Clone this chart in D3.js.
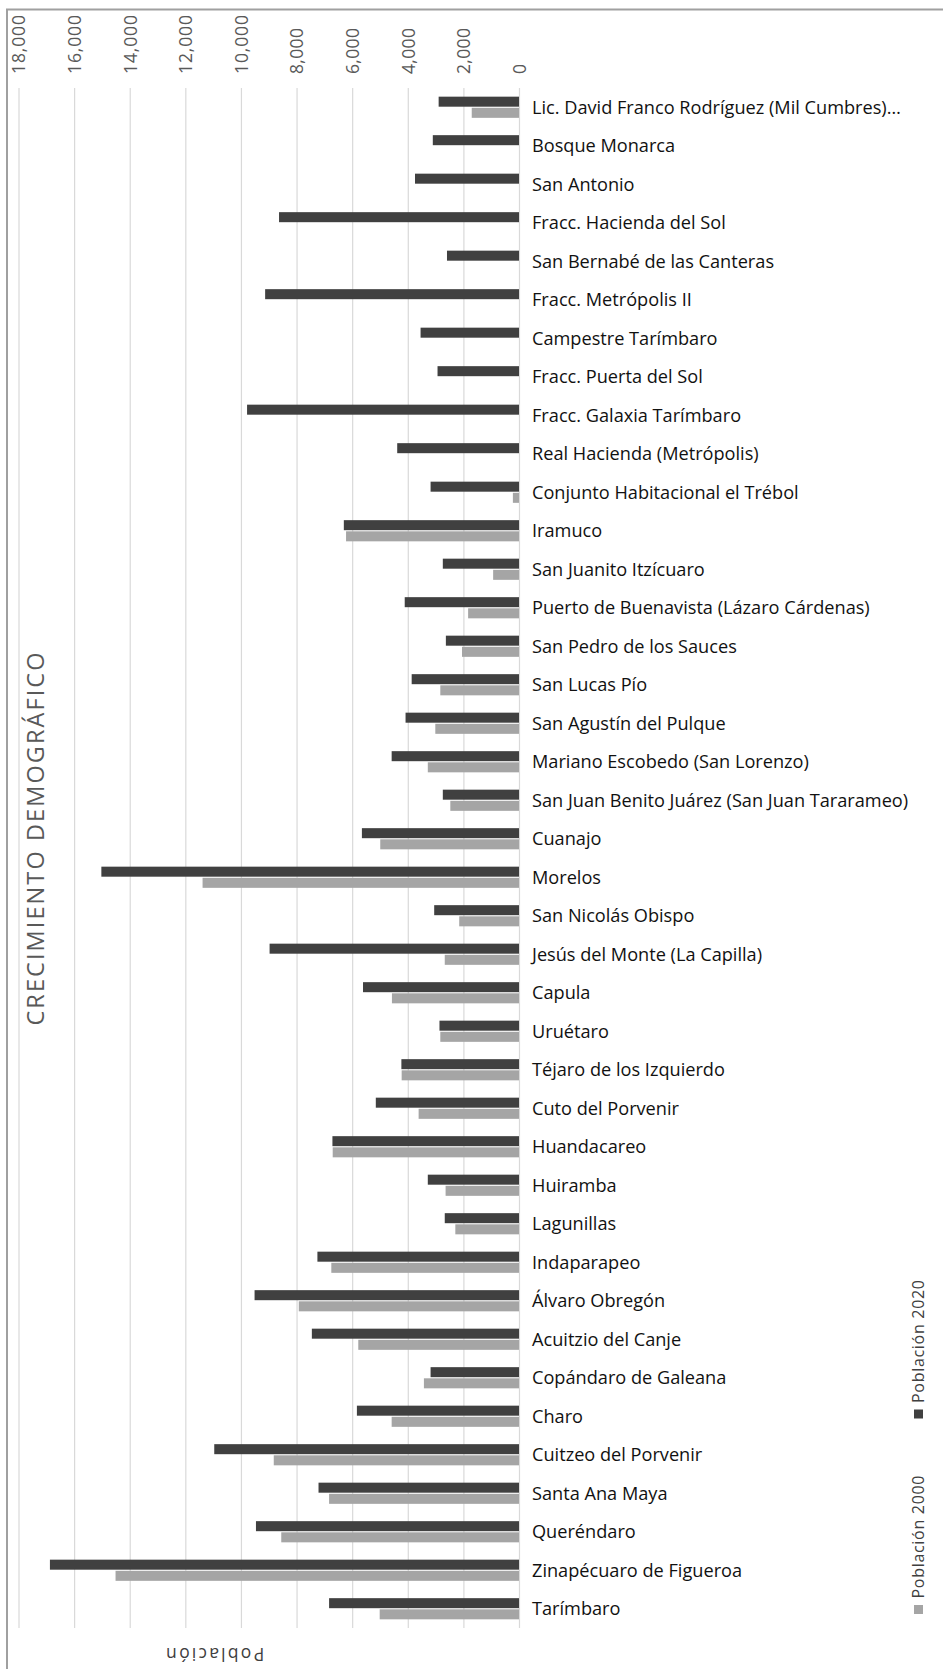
<!DOCTYPE html>
<html>
<head>
<meta charset="UTF-8">
<title>Crecimiento demográfico</title>
<style>
  body { margin: 0; background: #fff; }
  svg { display: block; font-family: "Open Sans", sans-serif; }
</style>
</head>
<body>
<script src="https://d3js.org/d3.v7.min.js"></script>
<script>
// data
var categories = [
  "Lic. David Franco Rodríguez (Mil Cumbres)…", "Bosque Monarca", "San Antonio",
  "Fracc. Hacienda del Sol", "San Bernabé de las Canteras", "Fracc. Metrópolis II",
  "Campestre Tarímbaro", "Fracc. Puerta del Sol", "Fracc. Galaxia Tarímbaro",
  "Real Hacienda (Metrópolis)", "Conjunto Habitacional el Trébol", "Iramuco",
  "San Juanito Itzícuaro", "Puerto de Buenavista (Lázaro Cárdenas)", "San Pedro de los Sauces",
  "San Lucas Pío", "San Agustín del Pulque", "Mariano Escobedo (San Lorenzo)",
  "San Juan Benito Juárez (San Juan Tararameo)", "Cuanajo", "Morelos", "San Nicolás Obispo",
  "Jesús del Monte (La Capilla)", "Capula", "Uruétaro", "Téjaro de los Izquierdo",
  "Cuto del Porvenir", "Huandacareo", "Huiramba", "Lagunillas", "Indaparapeo",
  "Álvaro Obregón", "Acuitzio del Canje", "Copándaro de Galeana", "Charo",
  "Cuitzeo del Porvenir", "Santa Ana Maya", "Queréndaro", "Zinapécuaro de Figueroa", "Tarímbaro"
];
var pop2020 = [2890, 3100, 3740, 8630, 2590, 9130, 3540, 2930, 9780, 4380, 3180, 6300,
  2740, 4110, 2630, 3860, 4080, 4580, 2740, 5650, 15020, 3050, 8970, 5610, 2860, 4230,
  5150, 6710, 3280, 2670, 7250, 9510, 7450, 3180, 5830, 10960, 7210, 9460, 16870, 6830];
var pop2000 = [1700, 0, 0, 0, 0, 0, 0, 0, 0, 0, 220, 6220, 930, 1830, 2050, 2830, 3010,
  3280, 2470, 4990, 11380, 2150, 2670, 4570, 2830, 4220, 3610, 6700, 2640, 2290, 6750,
  7920, 5780, 3420, 4580, 8820, 6830, 8550, 14510, 5010];
var series = ["Población 2020", "Población 2000"];
var tickValues = [0, 2000, 4000, 6000, 8000, 10000, 12000, 14000, 16000, 18000];

var width = 943, height = 1669;
var plot = { left: 18.5, right: 519, top: 88, bottom: 1628 };

// stretch text with letter spacing so it covers the given length
function fit(sel, target) {
  sel.each(function() {
    var n = this.getNumberOfChars();
    var w = this.getComputedTextLength();
    if (n > 1) d3.select(this).attr("letter-spacing", (target - w) / (n - 1));
  });
}

var svg = d3.select("body").append("svg")
  .attr("width", width)
  .attr("height", height);

svg.append("rect")
  .attr("width", width).attr("height", height)
  .attr("fill", "#fff");

// cut off text above the frame
svg.append("text")
  .attr("x", 184).attr("y", -4)
  .attr("font-size", 16)
  .attr("fill", "#000")
  .text("g");

// chart frame
svg.append("rect")
  .attr("x", 7).attr("y", 9.5)
  .attr("width", 1000).attr("height", 2000)
  .attr("fill", "none")
  .attr("stroke", "#a0a0a0")
  .attr("stroke-width", 2);

var x = d3.scaleLinear().domain([0, 18000]).range([plot.right, plot.left]);
var y = d3.scaleBand().domain(categories)
  .range([plot.top, plot.bottom])
  .paddingInner(0.45).paddingOuter(0.225);
var ySub = d3.scaleBand().domain(series)
  .range([0, y.bandwidth()])
  .paddingInner(0.1);
var color = d3.scaleOrdinal().domain(series).range(["#404040", "#a5a5a5"]);

// value axis: gridlines + rotated labels
var axis = svg.append("g")
  .attr("transform", "translate(0," + plot.top + ")")
  .call(d3.axisTop(x)
    .tickValues(tickValues)
    .tickSizeInner(-(plot.bottom - plot.top))
    .tickSizeOuter(0)
    .tickFormat(d3.format(",")));
axis.select(".domain").remove();
axis.selectAll(".tick line").attr("stroke", "#d9d9d9").attr("stroke-width", 1.2);
axis.selectAll(".tick text")
  .attr("x", 0).attr("y", 0).attr("dy", "0.36em")
  .attr("transform", "translate(0,-14) rotate(-90)")
  .attr("text-anchor", "start")
  .attr("font-family", "Open Sans, sans-serif")
  .attr("font-size", 17.5)
  .attr("fill", "#595959");
fit(axis.selectAll(".tick text").filter(function(d) { return d >= 10000; }), 59);
fit(axis.selectAll(".tick text").filter(function(d) { return d > 0 && d < 10000; }), 46);

// bars
var rows = categories.map(function(c, i) {
  return { cat: c, values: [
    { key: series[0], v: pop2020[i] },
    { key: series[1], v: pop2000[i] }
  ]};
});

var row = svg.append("g").selectAll("g")
  .data(rows)
  .join("g")
  .attr("transform", function(d) { return "translate(0," + y(d.cat) + ")"; });

row.selectAll("rect")
  .data(function(d) { return d.values.filter(function(e) { return e.v > 0; }); })
  .join("rect")
  .attr("x", function(d) { return x(d.v); })
  .attr("y", function(d) { return ySub(d.key); })
  .attr("width", function(d) { return x(0) - x(d.v); })
  .attr("height", ySub.bandwidth())
  .attr("fill", function(d) { return color(d.key); });

// category labels
var labels = svg.append("g").selectAll("text")
  .data(categories)
  .join("text")
  .attr("x", 532)
  .attr("y", function(d) { return y(d) + y.bandwidth() / 2; })
  .attr("dy", "0.35em")
  .attr("font-size", 17)
  .attr("fill", "#111")
  .text(function(d) { return d; });
// size the labels so the long one matches the picture
var ref = labels.filter(function(d) { return d.indexOf("Puerto") === 0; }).node();
var fs = 17 * 338 / ref.getComputedTextLength();
labels.attr("font-size", fs);

// title
svg.append("text")
  .attr("transform", "translate(35.5,838) rotate(-90)")
  .attr("text-anchor", "middle")
  .attr("dy", "0.35em")
  .attr("font-size", 23.5)
  .attr("fill", "#595959")
  .text("CRECIMIENTO DEMOGRÁFICO")
  .call(fit, 373);

// axis title, upside down as in the picture
svg.append("text")
  .attr("transform", "translate(214,1654) rotate(180)")
  .attr("text-anchor", "middle")
  .attr("dy", "0.35em")
  .attr("font-size", 17.5)
  .attr("fill", "#404040")
  .text("Población")
  .call(fit, 98);

// legend
var legendPos = [1414, 1609.5];
var legend = svg.append("g").selectAll("g")
  .data(series)
  .join("g")
  .attr("transform", function(d, i) { return "translate(918.5," + legendPos[i] + ")"; });
legend.append("rect")
  .attr("x", -4.5).attr("y", -4.5)
  .attr("width", 9).attr("height", 9)
  .attr("fill", function(d) { return color(d); });
legend.append("text")
  .attr("transform", "translate(0,-11) rotate(-90)")
  .attr("dy", "0.35em")
  .attr("font-size", 16)
  .attr("fill", "#404040")
  .text(function(d) { return d; })
  .call(fit, 123);
</script>
</body>
</html>
